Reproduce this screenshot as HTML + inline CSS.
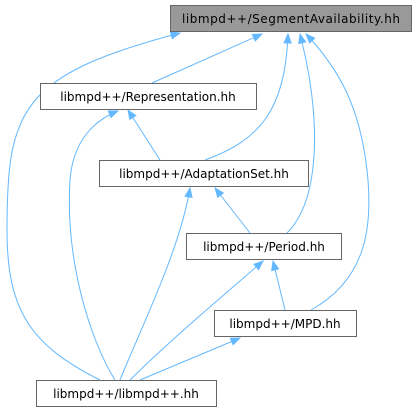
<!DOCTYPE html>
<html><head><meta charset="utf-8"><style>
html,body{margin:0;padding:0;background:#fff;}
svg{display:block;}
text{font-family:"DejaVu Sans","Liberation Sans",sans-serif;font-size:12px;fill:#000;}
</style></head><body>
<svg width="418" height="417" viewBox="0 0 418 417" xmlns="http://www.w3.org/2000/svg">
<defs>
<marker id="a" viewBox="0 0 12 10" refX="11" refY="5" markerWidth="12" markerHeight="9" markerUnits="userSpaceOnUse" orient="auto">
<polygon points="1,1 11,5 1,9" fill="#63b8ff" stroke="#63b8ff" stroke-width="1"/>
</marker>
</defs>
<g fill="none" stroke="#63b8ff" stroke-width="1" marker-end="url(#a)">
<path d="M100,380 C30,345 7,310 7,230 C7,110 20,75 180,33"/>
<path d="M152,83 L262,34"/>
<path d="M205,160 C260,140 285,110 288,34"/>
<path d="M287,233 C320,200 322,120 300,34"/>
<path d="M311,310 C365,280 372,230 368,180 C362,110 340,70 306,34"/>
<path d="M160,160 L128,110"/>
<path d="M115,380 C90,340 65,260 70,180 C73,140 95,120 118,111"/>
<path d="M250,233 L215,188"/>
<path d="M120,380 C140,330 180,250 190,188"/>
<path d="M130,380 C170,340 230,290 263,261"/>
<path d="M285,310 L273,261"/>
<path d="M140,380 L240,338"/>
</g>
<rect x="170.5" y="5.5" width="241" height="26" fill="#999" stroke="#666"/>
<text x="291" y="23" text-anchor="middle" textLength="218">libmpd++/SegmentAvailability.hh</text>
<rect x="40.5" y="83.5" width="216" height="26" fill="#fff" stroke="#666"/>
<text x="148" y="101" text-anchor="middle">libmpd++/Representation.hh</text>
<rect x="99.5" y="160.5" width="209" height="26" fill="#fff" stroke="#666"/>
<text x="204" y="178" text-anchor="middle">libmpd++/AdaptationSet.hh</text>
<rect x="186.5" y="233.5" width="155" height="26" fill="#fff" stroke="#666"/>
<text x="264" y="251" text-anchor="middle">libmpd++/Period.hh</text>
<rect x="214.5" y="310.5" width="142" height="26" fill="#fff" stroke="#666"/>
<text x="285" y="328" text-anchor="middle">libmpd++/MPD.hh</text>
<rect x="36.5" y="380.5" width="180" height="26" fill="#fff" stroke="#666"/>
<text x="126" y="398" text-anchor="middle">libmpd++/libmpd++.hh</text>
</svg>
</body></html>
